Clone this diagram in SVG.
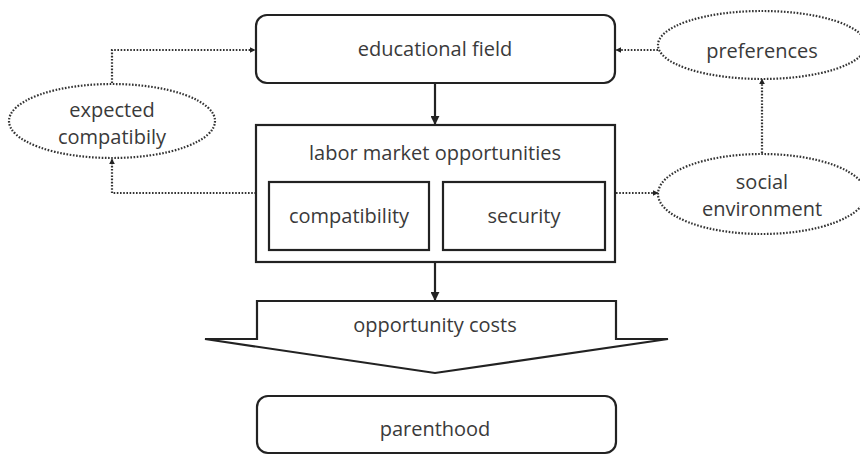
<svg xmlns="http://www.w3.org/2000/svg" width="860" height="456" viewBox="0 0 860 456">
<defs>
<style>
.box{fill:#fff;stroke:#222;stroke-width:2.2}
.ell{fill:#fff;stroke:#333;stroke-width:2.2;stroke-dasharray:1.6 1.6}
.dot{fill:none;stroke:#333;stroke-width:2.2;stroke-dasharray:1.6 1.6}
.solid{fill:none;stroke:#222;stroke-width:2.2}
text{font-family:"Open Sans","Liberation Sans",sans-serif;font-size:20px;fill:#3a3a3a;text-anchor:middle}
</style>
<marker id="ah" viewBox="0 0 10 10" refX="9" refY="5" markerWidth="9" markerHeight="9" markerUnits="userSpaceOnUse" orient="auto">
<path d="M0,0 L10,5 L0,10 z" fill="#222"/>
</marker>
<marker id="ahs" viewBox="0 0 10 10" refX="9" refY="5" markerWidth="6" markerHeight="6" markerUnits="userSpaceOnUse" orient="auto">
<path d="M0,0 L10,5 L0,10 z" fill="#222"/>
</marker>
</defs>
<rect width="860" height="456" fill="#fff"/>
<g id="connectors">
<path class="solid" d="M435,84 V124" marker-end="url(#ah)"/>
<path class="solid" d="M435,263 V300" marker-end="url(#ah)"/>
<path class="dot" d="M112,83 V50 H255" marker-end="url(#ahs)"/>
<path class="dot" d="M256,193 H112 V159" marker-end="url(#ahs)"/>
<path class="dot" d="M658,50 H616" marker-end="url(#ahs)"/>
<path class="dot" d="M616,193 H658" marker-end="url(#ahs)"/>
<path class="dot" d="M762,153 V79" marker-end="url(#ahs)"/>
</g>
<g id="educational-field">
<rect class="box" x="256" y="15" width="359" height="68" rx="11"/>
<text x="435" y="56">educational field</text>
</g>
<g id="labor-market">
<rect class="box" x="256" y="125" width="359" height="137"/>
<text x="435" y="160">labor market opportunities</text>
</g>
<g id="compatibility">
<rect class="box" x="269" y="182" width="160" height="68"/>
<text x="349" y="223">compatibility</text>
</g>
<g id="security">
<rect class="box" x="443" y="182" width="162" height="68"/>
<text x="524" y="223">security</text>
</g>
<g id="opportunity-costs">
<path class="box" d="M257,301 H616 V339 H668 L435,373 L205,339 H257 Z"/>
<text x="435" y="332">opportunity costs</text>
</g>
<g id="parenthood">
<rect class="box" x="257" y="396" width="359" height="57" rx="11"/>
<text x="435" y="436">parenthood</text>
</g>
<g id="expected-compatibily">
<ellipse class="ell" cx="112" cy="121" rx="103" ry="37"/>
<text x="112" y="117">expected</text>
<text x="112" y="144">compatibily</text>
</g>
<g id="preferences">
<ellipse class="ell" cx="762" cy="45" rx="104" ry="34"/>
<text x="762" y="58">preferences</text>
</g>
<g id="social-environment">
<ellipse class="ell" cx="762" cy="194" rx="104" ry="40"/>
<text x="762" y="189">social</text>
<text x="762" y="216">environment</text>
</g>
</svg>
